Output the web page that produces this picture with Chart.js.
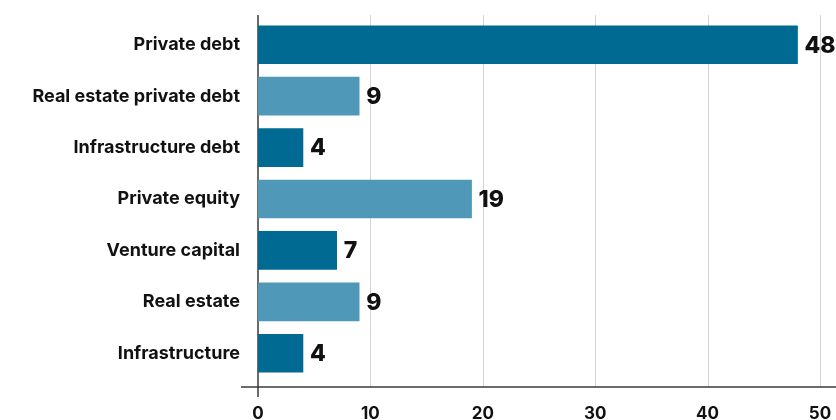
<!DOCTYPE html>
<html>
<head>
<meta charset="utf-8">
<script src="https://cdn.jsdelivr.net/npm/chart.js@4.4.1/dist/chart.umd.min.js"></script>
<style>
  html, body { margin: 0; padding: 0; background: #fff; }
  #wrap { width: 836px; height: 420px; }
</style>
</head>
<body>
<div id="wrap"><canvas id="chart"></canvas></div>
<script>
const categories = ['Private debt', 'Real estate private debt', 'Infrastructure debt', 'Private equity', 'Venture capital', 'Real estate', 'Infrastructure'];
const values = [48, 9, 4, 19, 7, 9, 4];
const xTicks = [0, 10, 20, 30, 40, 50];

const darkBlue = '#016a92';
const lightBlue = '#4f98b8';
const barColors = categories.map((c, i) => i % 2 === 0 ? darkBlue : lightBlue);

const FONT = 'Inter, "Open Sans", sans-serif';

// grid lines, the crossed axis lines and the value labels
const decorations = {
  id: 'decorations',
  beforeDatasetsDraw(chart) {
    const { ctx, chartArea, scales: { x } } = chart;
    const top = chartArea.top - 4, base = chartArea.bottom + 8;
    ctx.save();
    ctx.strokeStyle = '#d4d4d4';
    ctx.lineWidth = 1;
    xTicks.forEach(v => {
      if (v === 0) return;
      const px = Math.round(x.getPixelForValue(v)) + 0.5;
      ctx.beginPath(); ctx.moveTo(px, top); ctx.lineTo(px, base); ctx.stroke();
    });
    ctx.strokeStyle = '#3a3a3a';
    ctx.lineWidth = 1.5;
    const x0 = x.getPixelForValue(0);
    ctx.beginPath(); ctx.moveTo(x0, top); ctx.lineTo(x0, base + 10); ctx.stroke();
    ctx.beginPath(); ctx.moveTo(x0 - 17, base); ctx.lineTo(chart.width, base); ctx.stroke();
    ctx.restore();
  },
  afterDatasetsDraw(chart) {
    const { ctx } = chart;
    const meta = chart.getDatasetMeta(0);
    ctx.save();
    ctx.font = `800 23px ${FONT}`;
    ctx.fillStyle = '#111';
    ctx.textBaseline = 'middle';
    meta.data.forEach((bar, i) => {
      ctx.fillText(String(values[i]), bar.x + 7, bar.y + 1);
    });
    ctx.restore();
  }
};

new Chart(document.getElementById('chart'), {
  type: 'bar',
  data: {
    labels: categories,
    datasets: [{
      data: values,
      backgroundColor: barColors,
      borderWidth: 0,
      barThickness: 38,
    }],
  },
  options: {
    indexAxis: 'y',
    responsive: true,
    maintainAspectRatio: false,
    animation: false,
    layout: { padding: { top: 19, right: 16, left: 0, bottom: 0 } },
    plugins: {
      legend: { display: false },
      tooltip: { enabled: false },
    },
    scales: {
      x: {
        min: 0,
        max: 50,
        afterBuildTicks: (s) => { s.ticks = xTicks.map(v => ({ value: v })); },
        grid: { display: false, drawTicks: false },
        border: { display: false },
        ticks: { color: '#111', padding: 25, font: { family: FONT, size: 17, weight: '700' } },
        afterFit: (s) => { s.height = 41; s.paddingLeft = 0; s.paddingRight = 0; },
      },
      y: {
        grid: { display: false, drawTicks: false },
        border: { display: false },
        ticks: { color: '#111', padding: 18, font: { family: FONT, size: 18, weight: '700' } },
        afterFit: (s) => { s.width = 258; s.paddingTop = 0; s.paddingBottom = 0; },
      },
    },
  },
  plugins: [decorations],
});
</script>
</body>
</html>
